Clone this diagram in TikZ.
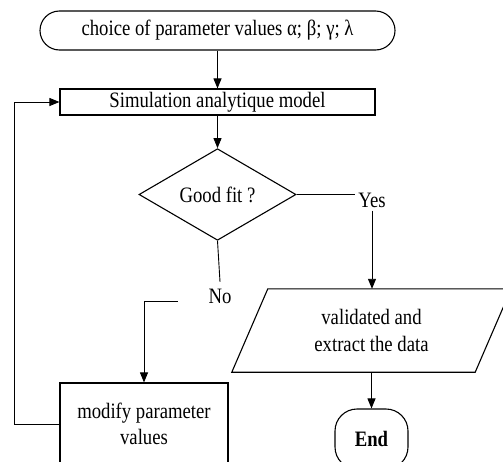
\documentclass[tikz,border=0pt]{standalone}
\usepackage{fontspec}
\setmainfont{Liberation Serif}[FakeStretch=0.85]
\usetikzlibrary{shapes.geometric,arrows.meta}
\newcommand\figfont{\fontsize{22}{26.5}\selectfont}
\begin{document}
\begin{tikzpicture}[x=1pt,y=-1pt,
  box/.style={draw,line width=1.1pt,inner sep=0pt,align=center,font=\figfont},
  iobox/.style={inner sep=0pt,align=center,font=\figfont},
  lbl/.style={inner sep=3pt,font=\figfont},
  shp/.style={line width=1.1pt},
  ln/.style={line width=0.9pt},
  arr/.style={line width=0.9pt,-{Triangle[length=10pt,width=8pt]}}]
\useasboundingbox (0,0) rectangle (503,461);
\clip (0,0) rectangle (503,461);
\node[box, rounded corners=19.5pt, minimum width=355pt, minimum height=39pt] (start) at (217.5,30.5) {choice of parameter values α; β; γ; λ};
\node[box, minimum width=315pt, minimum height=26pt] (sim) at (217.5,102) {Simulation analytique model};
\node[box, diamond, minimum width=157pt, minimum height=79pt] (fit) at (217.5,194.5) {Good fit ?};
\node[lbl] (yes) at (372,200) {Yes};
\node[lbl, minimum width=84pt, minimum height=28pt] (no) at (220,296) {No};
\node[iobox, minimum width=243pt, minimum height=83pt] (val) at (371.5,330.5) {validated and\\extract the data};
\draw[shp] ([xshift=-18pt]val.south west) -- ([xshift=-18pt]val.south east) -- ([xshift=18pt]val.north east) -- ([xshift=18pt]val.north west) -- cycle;
\node[box, rounded corners=22pt, minimum width=73pt, minimum height=60pt] (end) at (371.5,439) {\textbf{End}};
\node[box, minimum width=168pt, minimum height=82pt] (mod) at (144,424) {modify parameter\\values};
\draw[arr] (start) -- (sim);
\draw[arr] (sim) -- (fit);
\draw[ln] (fit.east) -- (fit.east -| yes.west);
\draw[arr] (yes.south) -- (yes.south |- val.north);
\draw[ln] (fit.south) -- (no.north);
\draw[arr] ([yshift=-5pt]no.west) -| (mod.north);
\draw[arr] (val) -- (end);
\draw[arr] (mod.west) -- ++(-45,0) |- (sim.west);
\end{tikzpicture}
\end{document}
